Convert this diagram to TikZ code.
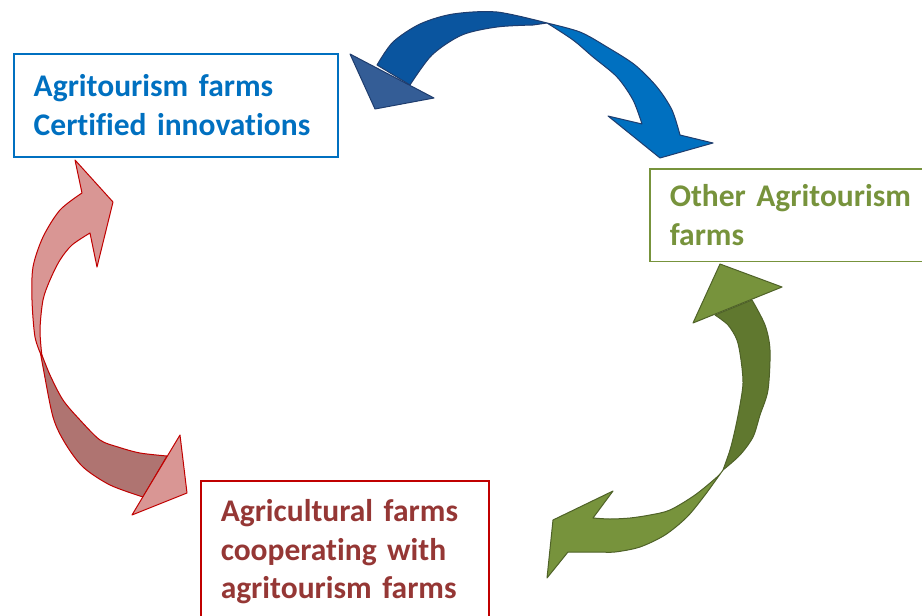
\documentclass[tikz,border=0pt]{standalone}
\usepackage{fontspec}
\setmainfont{Carlito}[Ligatures=NoCommon]
\usepackage{xcolor}
\usepackage{tikz}

\definecolor{certblue}{HTML}{0070C0}
\definecolor{darkblue}{HTML}{0A559F}
\definecolor{headblue}{HTML}{345D96}
\definecolor{navy}{HTML}{1F3D6E}
\definecolor{cooptext}{HTML}{953735}
\definecolor{coopline}{HTML}{C00000}
\definecolor{lightred}{HTML}{D99694}
\definecolor{darkred}{HTML}{AF7471}
\definecolor{othergreen}{HTML}{77933C}
\definecolor{darkgreen}{HTML}{60782F}
\definecolor{olive}{HTML}{4F6228}

\begin{document}
\begin{tikzpicture}[x=1pt, y=-1pt,
    farm/.style={draw, line width=1.5pt, anchor=north west, align=left,
        font=\bfseries\fontsize{31.5}{38.5}\selectfont, inner xsep=20pt, inner ysep=19pt},
    band/.style={line width=1pt, line join=round}]
            \useasboundingbox (0,0) rectangle (922,616);
            \clip (0,0) rectangle (922,616);

            % boxes
            \node[farm, draw=certblue, text=certblue, text width=284pt, minimum height=103pt]
                (certified) at (13,53) {Agritourism farms\\Certified innovations};
            \node[farm, draw=othergreen, text=othergreen, text width=270pt, inner ysep=16pt]
                (other) at (649,168) {Other Agritourism\\farms};
            \node[farm, draw=coopline, text=cooptext, text width=248pt]
                (cooperating) at (200,480) {Agricultural farms\\cooperating with\\agritourism farms};

            % blue arrow
            \filldraw[band, draw=navy, fill=darkblue]
                plot[smooth] coordinates {(377,65) (393,42) (420,24) (453,14) (497,12) (547,23)}
                -- plot[smooth] coordinates {(533,25) (497,27) (462,35) (432,55) (410,85)} -- cycle;
            \filldraw[band, draw=navy, fill=certblue]
                plot[smooth] coordinates {(547,23) (580,32) (607,47) (635,65) (657,87) (672,110) (680,135)}
                -- (713,143) -- (660,158) -- (608,116) -- (642,124)
                -- plot[smooth] coordinates {(642,124) (633,100) (617,77) (593,57) (573,40) (547,23)} -- cycle;
            \filldraw[band, draw=navy, fill=headblue] (350,54) -- (375,109) -- (434,98) -- cycle;

            % red arrow
            \filldraw[band, draw=coopline, fill=darkred]
                plot[smooth] coordinates {(40,350) (43,367) (53,417) (65,443) (83,467) (110,485) (143,497)}
                -- plot[smooth] coordinates {(167,456) (140,453) (118,447) (100,440) (80,420) (63,400) (50,375) (40,350)} -- cycle;
            \filldraw[band, draw=coopline, fill=lightred]
                plot[smooth] coordinates {(42,357) (35,337) (32,300) (33,267) (43,237) (60,210) (82,193)}
                -- (75,160) -- (113,202) -- (97,267) -- (90,233)
                -- plot[smooth] coordinates {(90,233) (72,245) (60,260) (50,280) (43,300) (40,330) (42,357)} -- cycle;
            \filldraw[band, draw=coopline, fill=lightred] (180,435) -- (187,493) -- (132,515) -- cycle;

            % green arrow
            \filldraw[band, draw=olive, fill=darkgreen]
                plot[smooth] coordinates {(752,300) (765,325) (770,350) (768,390) (760,415) (753,437) (740,455) (723,470)}
                -- plot[smooth] coordinates {(723,470) (730,450) (735,430) (740,405) (743,383) (741,360) (737,340) (728,325) (715,315)} -- cycle;
            \filldraw[band, draw=olive, fill=othergreen] (720,264) -- (782,287) -- (693,323) -- cycle;
            \filldraw[band, draw=olive, fill=othergreen]
                plot[smooth] coordinates {(723,470) (705,495) (687,517) (665,535) (640,547) (615,552) (597,552) (568,552)}
                -- (547,578) -- (553,520) -- (613,491) -- (593,518)
                -- plot[smooth] coordinates {(593,518) (610,519) (630,518) (650,515) (670,510) (695,495) (717,477) (723,470)} -- cycle;
        \end{tikzpicture}
\end{document}
